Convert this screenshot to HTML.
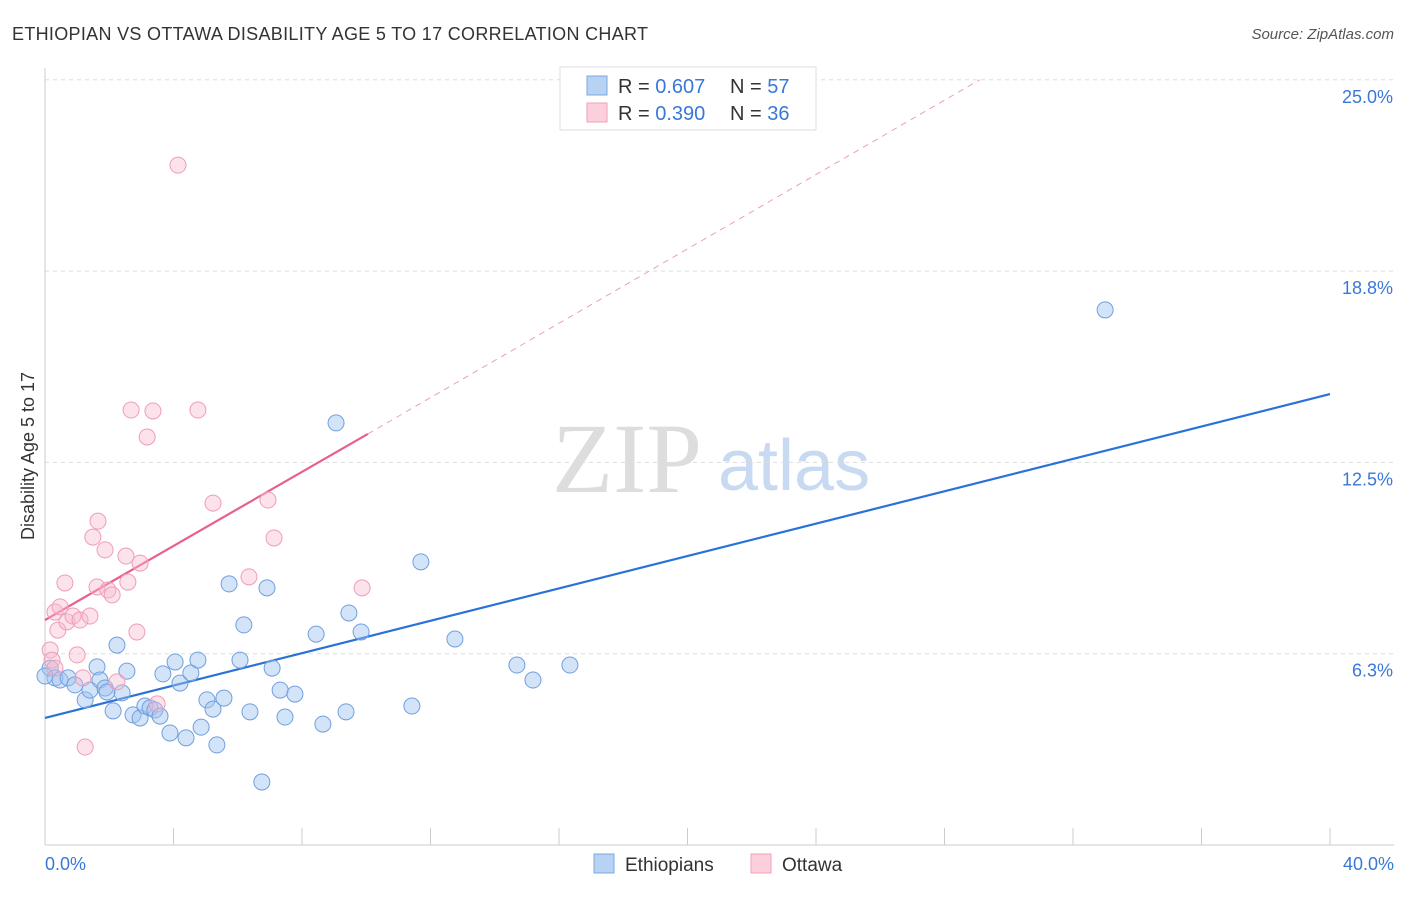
<!DOCTYPE html>
<html><head><meta charset="utf-8"><style>
body{margin:0;background:#fff;font-family:"Liberation Sans",sans-serif}
</style></head><body>
<svg id="chart" width="1406" height="892" xmlns="http://www.w3.org/2000/svg" style="font-family:'Liberation Sans',sans-serif">
<text x="12" y="40" font-size="18" fill="#333" textLength="636">ETHIOPIAN VS OTTAWA DISABILITY AGE 5 TO 17 CORRELATION CHART</text>
<text x="1394" y="39" font-size="15" fill="#555" font-style="italic" text-anchor="end">Source: ZipAtlas.com</text>
<g>
<text x="552" y="492" font-size="100" fill="#ddd" style="font-family:'Liberation Serif',serif">ZIP</text>
<text x="718" y="490" font-size="72" fill="#c8daf2">atlas</text>
</g>
<g id="grid"></g><g id="axes"></g><g id="trends"></g><g id="pts"></g>
<text transform="translate(34,456) rotate(-90)" font-size="18" fill="#333" text-anchor="middle">Disability Age 5 to 17</text>
<text x="45" y="870" font-size="18" fill="#3a78d8">0.0%</text>
<text x="1394" y="870" font-size="18" fill="#3a78d8" text-anchor="end">40.0%</text>
<g>
<rect x="560" y="67" width="256" height="63" fill="#fff" stroke="#ddd"/>
<rect x="587" y="76" width="20" height="19" fill="#b8d2f4" stroke="#7aa8e0"/>
<rect x="587" y="103" width="20" height="19" fill="#fbd0dc" stroke="#f0a0b8"/>
<text x="618" y="93" font-size="20" fill="#333">R = <tspan fill="#3a78d8">0.607</tspan><tspan x="730">N = </tspan><tspan fill="#3a78d8">57</tspan></text>
<text x="618" y="120" font-size="20" fill="#333">R = <tspan fill="#3a78d8">0.390</tspan><tspan x="730">N = </tspan><tspan fill="#3a78d8">36</tspan></text>
</g>
<g>
<rect x="594" y="854" width="20" height="19" fill="#b8d2f4" stroke="#7aa8e0"/>
<text x="625" y="871" font-size="19" fill="#333">Ethiopians</text>
<rect x="751" y="854" width="20" height="19" fill="#fbd0dc" stroke="#f0a0b8"/>
<text x="782" y="871" font-size="19" fill="#333">Ottawa</text>
</g>
</svg>
<script>
const yTicks=[25,18.75,12.5,6.25];
const yTickLabels=["25.0%","18.8%","12.5%","6.3%"];
const xTicks=[0,4,8,12,16,20,24,28,32,36,40];
const blueX=[0.16,0.31,0.47,0.72,0.93,1.25,1.40,1.62,1.71,1.87,1.93,2.12,2.24,2.40,2.55,2.74,2.96,3.11,3.27,3.42,3.58,3.67,3.89,4.05,4.20,4.39,4.54,4.76,4.86,5.04,5.23,5.35,5.57,5.73,6.07,6.19,6.38,6.75,6.91,7.07,7.32,7.47,7.78,8.44,8.65,9.06,9.37,9.46,9.84,11.42,11.70,12.76,14.69,15.19,16.34,33.0,0];
const blueY=[5.78,5.46,5.39,5.46,5.23,4.74,5.06,5.82,5.39,5.13,5.00,4.38,6.53,4.97,5.68,4.25,4.15,4.54,4.48,4.41,4.21,5.59,3.66,5.98,5.29,3.50,5.62,6.04,3.85,4.74,4.44,3.27,4.80,8.53,6.04,7.19,4.35,2.06,8.40,5.78,5.06,4.18,4.93,6.89,3.95,13.79,4.35,7.58,6.96,4.54,9.25,6.73,5.88,5.39,5.88,17.48,5.52];
const pinkX=[0.16,0.22,0.31,0.40,0.47,0.62,0.68,0.87,1.00,1.09,1.18,1.25,1.40,1.49,1.65,1.62,1.87,1.96,2.09,2.24,2.52,2.58,2.68,2.86,2.96,3.18,3.36,3.49,4.14,4.76,5.23,6.35,6.94,7.13,9.87,0.31];
const pinkY=[6.37,6.04,7.61,7.02,7.78,8.56,7.29,7.48,6.21,7.35,5.46,3.20,7.48,10.06,10.58,8.43,9.64,8.33,8.17,5.33,9.44,8.59,14.21,6.96,9.21,13.33,14.18,4.61,22.21,14.21,11.17,8.76,11.27,10.03,8.40,5.78];
const blueTrend=[0,4.15,40,14.73];
const pinkTrend=[0,7.35,10.05,13.43];
const pinkDash=[10.05,13.43,29.1,25];
const NS="http://www.w3.org/2000/svg";
const X=v=>45+v*32.125, Y=v=>845-v*30.61;
function mk(t,a,p){const e=document.createElementNS(NS,t);for(const k in a)e.setAttribute(k,a[k]);document.getElementById(p).appendChild(e);return e;}
yTicks.forEach((t,i)=>{
 const l=mk('line',{x1:45,x2:1394,y1:Y(t),y2:Y(t),stroke:'#ddd','stroke-dasharray':'4,4'},'grid');
 
 
 const tx=mk('text',{x:1393,y:Y(t)+23,'font-size':18,fill:'#3a78d8','text-anchor':'end'},'grid');
 tx.textContent=yTickLabels[i];
 
 
});
const ax=mk('line',{x1:45,x2:1394,y1:845,y2:845,stroke:'#ccc'},'axes');


const ay=mk('line',{x1:45,x2:45,y1:68,y2:845,stroke:'#ccc'},'axes');


xTicks.forEach(t=>{
 const l=mk('line',{x1:X(t),x2:X(t),y1:828,y2:845,stroke:'#ccc'},'axes');
 
 
});
function line(a,st,dash,name){
 const l=mk('line',{x1:X(a[0]),y1:Y(a[1]),x2:X(a[2]),y2:Y(a[3]),stroke:st,'stroke-width':dash?1:2.2},'trends');
 if(dash)l.setAttribute('stroke-dasharray','6,5');
 
 
}
line(pinkDash,'#eaa0b8',true,'ottawa-trend-extension');
line(blueTrend,'#2a72d8',false,'ethiopians-trend-line');
line(pinkTrend,'#e8608a',false,'ottawa-trend-line');
blueX.forEach((x,i)=>{
 const c=mk('circle',{cx:X(x),cy:Y(blueY[i]),r:8,fill:'rgba(160,196,240,0.45)',stroke:'#6f9fe0','stroke-width':1},'pts');
 
 
});
pinkX.forEach((x,i)=>{
 const c=mk('circle',{cx:X(x),cy:Y(pinkY[i]),r:8,fill:'rgba(248,185,205,0.4)',stroke:'#ee9db6','stroke-width':1},'pts');
 
 
});
</script>
</body></html>
